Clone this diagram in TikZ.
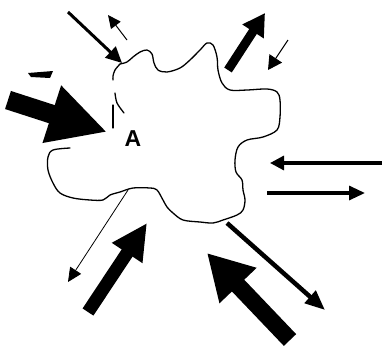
\documentclass[tikz,border=0pt]{standalone}
\usepackage{fontspec}
\setsansfont{Liberation Sans}
\usetikzlibrary{arrows.meta}

\begin{document}
\begin{tikzpicture}[
    x=1pt, y=-1pt,
    every node/.style={font=\sffamily},
    outline/.style={line width=1.3pt, line join=round, line cap=round},
    arr/.style n args={3}{line width=#1pt, -{Triangle[length=#2pt, width=#3pt]}},
]

\definecolor{ink}{HTML}{000000}

\useasboundingbox (0,0) rectangle (382,349);

% ================================================================
%   the cell: one closed wavy outline, broken at the top left
%   arrows: fluxes going in and out, line width / head length / head width
% ================================================================

% ---------------------------------------------------------------- outline
\draw[outline, ink] plot[smooth, tension=0.55] coordinates {
    (120,64) (127,62) (133,57) (140,52) (147,50) (152,54) (154,63) (158,70)
    (167,72) (180,68) (190,60) (200,50) (207,43) (213,45) (217,57) (218,70)
    (222,83) (230,90) (247,90) (267,89) (277,92) (280,100) (280,117)
    (277,130) (263,137) (247,140) (238,147) (235,160) (236,172) (242,180)
    (243,190) (245,200) (243,210) (237,215) (223,220) (213,223) (200,222)
    (183,220) (173,213) (167,207) (163,200) (157,190) (150,188) (133,188)
    (120,192) (110,195) (103,200) (90,200) (73,198) (60,193) (53,183)
    (48,170) (48,157) (53,150) (70,148)};
\draw[outline, ink] plot[smooth] coordinates {(120,64) (115,70) (113,76) (113,80)};
\draw[outline, ink] plot[smooth] coordinates {(115,93) (117,103) (124,113)};
\draw[outline, ink] (113,105) -- (113,128);

\node[font=\sffamily\bfseries\fontsize{23}{27}\selectfont, text=ink] (lblA) at (133,139) {A};

% ---------------------------------------------------------------- arrow ends
\foreach \n/\ax/\ay/\bx/\by in {
    tl/68/12/122/63,      tls/127/40/108/15,
    tr/228/70/265/13,     trs/288/40/268/70,
    rin/382/163/270/163,  rout/267/193/365/193,
    br/227/223/325/310,   bb/290/340/207/253,
    bl/128/190/68/282,    blb/88/312/147/223,
    lb/8/100/107/132} {
    \coordinate (\n-s) at (\ax,\ay);
    \coordinate (\n-e) at (\bx,\by);
}

% ---------------------------------------------------------------- arrows
\foreach \n/\w/\l/\h in {
    tl/3/16/15,      tls/1/13/12,
    tr/9/22/24,      trs/1/14/15,
    rin/3.2/14/14,   rout/3.2/16/14,
    br/4.5/20/16,    bb/17/45/48,
    bl/0.8/14/13,    blb/13/36/34,
    lb/19/58/56} {
    \draw[arr={\w}{\l}{\h}, ink] (\n-s) -- (\n-e);
}

% the little cut-off head at the upper left
\fill[ink] (28,73) -- (53,71) -- (50,78) -- (31,77) -- cycle;

\end{tikzpicture}
\end{document}
